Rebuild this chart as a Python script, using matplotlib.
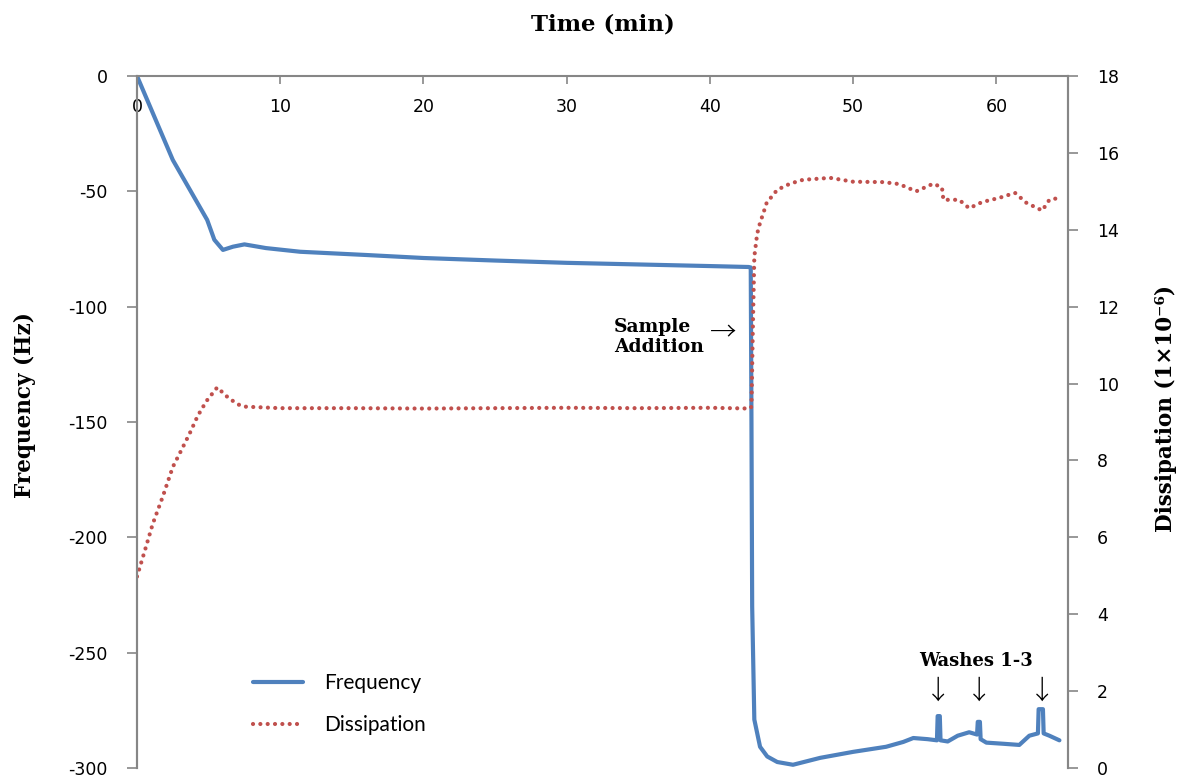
import matplotlib
matplotlib.use('Agg')
import matplotlib.pyplot as plt
from matplotlib.lines import Line2D

plt.rcParams['axes.unicode_minus'] = False

# frequency trace (Hz) vs time (min)
freq_t = [0, 1.4, 2.5, 3.7, 4.9, 5.4, 6.0, 6.7, 7.5, 9.0, 11.4, 16, 20, 25, 30, 35, 40,
          42.7, 42.85, 42.9, 42.95, 43.1, 43.5, 44.0, 44.7, 45.8, 47.7, 50, 52.3, 53.5, 54.2,
          55.2, 55.85, 55.9, 56.05, 56.1, 56.6, 57.3, 58.1, 58.65, 58.7, 58.85, 58.9, 59.3,
          60.5, 61.6, 62.3, 62.9, 62.95, 63.25, 63.3, 63.7, 64.4]
freq = [0, -20.4, -36.4, -49.4, -62.4, -71, -75.4, -74, -73, -74.6, -76.2, -77.6, -78.9,
        -80, -81, -81.7, -82.4, -82.8, -83, -150, -230, -279, -290.8, -295, -297.4, -298.6,
        -295.6, -293, -290.8, -288.7, -287, -287.5, -288, -277.5, -277.5, -288, -288.5, -286,
        -284.5, -285.5, -280, -280, -287.5, -289, -289.5, -290, -286, -285, -274.5, -274.5,
        -285, -286, -288]

# dissipation trace (1e-6) vs time (min)
diss_t = [0, 0.56, 1.1, 1.8, 2.5, 3.1, 3.7, 4.24, 4.86, 5.6, 6.43, 7.2, 7.5, 10, 15, 20,
          25, 30, 35, 40, 42.8, 42.9, 43.0, 43.1, 43.3, 43.5, 43.7, 43.96, 44.7, 45.6, 46.5,
          48.4, 50, 52.1, 53.2, 54.4, 55.6, 56.2, 56.3, 57.4, 58.1, 59.0, 60.2, 61.3, 62.1,
          63.2, 63.7, 64.4]
diss = [4.98, 5.67, 6.35, 7.06, 7.83, 8.27, 8.72, 9.16, 9.55, 9.9, 9.61, 9.43, 9.4, 9.36,
        9.36, 9.35, 9.36, 9.37, 9.36, 9.37, 9.35, 9.4, 11.5, 13.3, 13.9, 14.18, 14.4, 14.7,
        15.04, 15.2, 15.3, 15.35, 15.25, 15.24, 15.19, 15.0, 15.2, 15.1, 14.78, 14.78, 14.56,
        14.72, 14.83, 14.96, 14.7, 14.5, 14.78, 14.83]

x_ticks = [0, 10, 20, 30, 40, 50, 60]
freq_ticks = [0, -50, -100, -150, -200, -250, -300]
diss_ticks = [0, 2, 4, 6, 8, 10, 12, 14, 16, 18]
wash_times = [55.9, 58.8, 63.2]

blue = '#4F81BD'
red = '#C0504D'
grey = '#868686'
bold_serif = dict(family='DejaVu Serif', fontweight='bold')
arrow_font = dict(family=['Noto Sans CJK JP', 'DejaVu Sans'], fontweight='light')

fig = plt.figure(figsize=(11.81, 7.80), dpi=100)
ax = fig.add_axes([137 / 1181, 12 / 780, 931 / 1181, 692 / 780])
ax2 = ax.twinx()

ax.plot(freq_t, freq, color=blue, lw=3, solid_capstyle='round', solid_joinstyle='round')
ax2.plot(diss_t, diss, color=red, lw=3, linestyle=(0, (0.01, 1.75)), dash_capstyle='round')

ax.set_xlim(0, 65)
ax.set_ylim(-300, 0)
ax2.set_ylim(0, 18)
ax.set_xticks(x_ticks)
ax.set_yticks(freq_ticks)
ax2.set_yticks(diss_ticks)

# x axis lives on the top edge, ticks and labels hanging down into the plot
ax.spines['bottom'].set_position(('axes', 1.0))
for a in (ax, ax2):
    a.spines['top'].set_visible(False)
    for s in a.spines.values():
        s.set_color(grey)
        s.set_linewidth(1.5)
ax2.spines['bottom'].set_visible(False)
ax.tick_params(axis='x', direction='out', length=6, width=1.2, color=grey,
               labelsize=12.5, pad=10)
ax.tick_params(axis='y', direction='out', length=7, width=1.2, color=grey,
               labelsize=12.5, pad=14)
ax2.tick_params(axis='y', direction='out', length=7, width=1.2, color=grey,
                labelsize=12.5, pad=14)

ax.set_title('Time (min)', fontsize=16.5, pad=33, **bold_serif)
fig.text(25 / 1181, 1 - 405 / 780, 'Frequency (Hz)', rotation=90, ha='center', va='center',
         fontsize=15.5, **bold_serif)
fig.text(1166 / 1181, 1 - 408 / 780, 'Dissipation (1×10⁻⁶)', rotation=90,
         ha='center', va='center', fontsize=15.5, **bold_serif)

# annotations
ax.text(33.3, -113, 'Sample\nAddition', ha='left', va='center', fontsize=13.5,
        linespacing=1.15, **bold_serif)
ax.text(40.9, -111, '→', ha='center', va='center', fontsize=19, **arrow_font)
ax.text(58.6, -253.5, 'Washes 1-3', ha='center', va='center', fontsize=13, **bold_serif)
for wt in wash_times:
    ax.text(wt, -266.5, '↓', ha='center', va='center', fontsize=19, **arrow_font)

handles = [Line2D([], [], color=blue, lw=3, solid_capstyle='round'),
           Line2D([], [], color=red, lw=3, linestyle=(0, (0.01, 1.75)), dash_capstyle='round')]
ax2.legend(handles, ['Frequency', 'Dissipation'], loc='upper left',
           bbox_to_anchor=(0.1246, 0.137), frameon=False, borderpad=0, borderaxespad=0,
           handlelength=2.4, handletextpad=1.0, labelspacing=1.05,
           prop=dict(family='Lato', size=15))

fig.savefig('out.png', dpi=100)
